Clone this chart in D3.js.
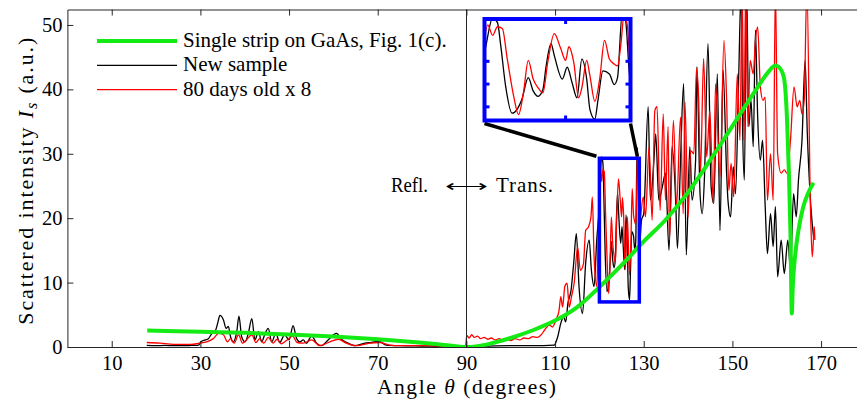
<!DOCTYPE html>
<html>
<head>
<meta charset="utf-8">
<script src="https://cdn.jsdelivr.net/npm/d3@7"></script>
<style>
body { margin: 0; background: #fff; }
svg { display: block; }
text { font-family: "Liberation Serif", serif; fill: #000; }
</style>
</head>
<body>
<div id="chart"></div>
<script>
var svgWidth = 857;
var svgHeight = 402;

// tick values
var xTicks = [10, 30, 50, 70, 90, 110, 130, 150, 170];
var yTicks = [0, 10, 20, 30, 40, 50];
var insetXTicks = [125];
var insetYTicks = [10, 15, 20];

var legendLabels = ["Single strip on GaAs, Fig. 1(c).", "New sample", "80 days old x 8"];

// zoomed window [angle range], [intensity range]
var zoomAngles = [120, 129];
var zoomValues = [7, 29.3];

// [angle, intensity]
var greenPoints = [
  [18, 2.55], [30, 2.35], [40, 2.2], [50, 1.95], [60, 1.62], [70, 1.2], [80, 0.65], [85, 0.32], [90, 0],
  [95, 0.45], [100, 1.4], [105, 2.6], [110, 4.1], [115, 6.2], [120, 9.3], [125, 12.7], [130, 16.4],
  [135, 19.8], [140, 24], [145, 29], [150, 34.3], [155, 39.6], [158, 42.6], [159.7, 43.7], [160.4, 43.5],
  [161.6, 41.9], [162.3, 35.7], [162.7, 28], [163.1, 17.7], [163.4, 5.2], [163.6, 9], [164.2, 14.5],
  [164.9, 18.1], [166, 21.8], [167.1, 23.9], [168.3, 25.5]
];

var blackPoints = [
  [17.9, 0.25], [20, 0.2], [22, 0.25], [24, 0.2], [26, 0.2], [28, 0.25], [29.6, 0.3], [30.1, 0.8], [31.1, 1.1],
  [31.8, 1.3], [32.6, 2.1], [33.3, 2.4], [33.9, 3.7], [34.4, 4.9], [35.2, 4.2], [35.8, 2.9], [36.3, 3.2],
  [36.8, 1.6], [37.4, 0.8], [38.2, 2.4], [38.7, 4.8], [39.3, 1.6], [40.1, 0.8], [40.8, 2.1], [41.6, 4.4],
  [42.3, 1.1], [43.1, 2.4], [43.8, 0.8], [44.6, 2.1], [45.3, 2.9], [46.1, 0.8], [47, 2.1], [47.9, 0.7],
  [49, 1.9], [50, 1.1], [50.9, 3.3], [51.7, 1.3], [52.4, 0.8], [53.2, 1.1], [53.9, 0.6], [55.1, 1.7],
  [56.2, 0.6], [57.3, 0.2], [58.8, 1.1], [60.7, 2.1], [61.8, 1.2], [63.3, 0.6], [64.8, 0.2], [67.1, 0.6],
  [68.6, 0.7], [70.3, 0.9], [71.9, 0.3], [75, 0.2], [80, 0.15], [85, 0.1], [90, 0.1], [95, 0.15], [100, 0.2],
  [105, 0.2], [109.8, 0.3], [110.6, 1.6], [111.3, 3.7], [111.9, 4.7], [112.4, 3.9], [112.9, 6.8], [113.6, 8.8],
  [114.2, 13], [114.8, 17.6], [115.4, 9.4], [116.2, 5.2], [116.9, 13], [117.7, 16.6], [118.2, 11.9],
  [118.8, 9.4], [119.4, 16.6], [120, 22], [120.5, 29.5], [120.8, 28.5], [121, 23.5], [121.3, 14.6],
  [121.7, 8.6], [122, 9.4], [122.3, 11.6], [122.7, 16.4], [123, 13.5], [123.3, 12.3], [123.6, 13.8],
  [123.8, 19], [124.1, 23.9], [124.3, 21.3], [124.8, 16.1], [125.1, 18.7], [125.4, 15.3], [125.7, 12],
  [126, 20.5], [126.3, 16.1], [126.5, 9.4], [126.8, 7.3], [127, 11.6], [127.3, 17.9], [127.7, 17.2],
  [128, 14.9], [128.2, 16.4], [128.5, 31], [128.7, 29], [129, 15.3], [129.5, 19.7], [130, 20.7], [131, 37.3],
  [131.5, 22.8], [132.3, 29], [132.7, 33.1], [133.4, 22.8], [134.2, 24.9], [134.9, 27], [135.7, 15],
  [136.4, 31.1], [137.2, 22.8], [137.6, 15.3], [138.3, 29], [139, 40.9], [139.6, 14.3], [140.4, 31.1],
  [140.9, 22.8], [141.7, 29], [142, 43.5], [142.7, 23.8], [143.2, 20.7], [143.7, 26.4], [144.5, 47.1],
  [145.2, 24.9], [145.8, 22.3], [146.6, 42.4], [147.2, 18.1], [147.9, 43], [148.7, 26.9], [149, 22.8],
  [149.6, 20.2], [150.2, 28], [150.7, 23.8], [151.4, 41.4], [152, 56], [152.3, 34.2], [152.7, 25.9],
  [153.2, 56], [153.7, 34.2], [154.2, 38.3], [154.7, 31.1], [155.2, 49.2], [155.7, 35.7], [156.3, 29],
  [156.8, 32.1], [157.4, 21.8], [157.9, 14.5], [158.6, 20.7], [159.2, 15.6], [159.7, 21.8], [160.2, 10.9],
  [161, 16.6], [161.7, 11.4], [162.5, 16.6], [163.1, 12], [163.8, 23.8], [164.4, 20.2], [164.9, 25.9],
  [165.7, 32.1], [166.4, 44.5], [166.9, 33.1], [167.7, 21.8], [168.3, 17.1]
];

var redPoints = [
  [17.9, 0.7], [20.9, 0.6], [23.9, 0.4], [27.7, 0.4], [29.9, 0.6], [31.4, 0.8], [32.9, 1.3], [34.1, 2.1],
  [35.2, 1.9], [36.1, 0.8], [36.8, 1.3], [37.6, 0.6], [38.6, 1.9], [39.5, 0.6], [40.4, 1.1], [41.6, 1.9],
  [42.5, 0.7], [43.4, 1.3], [44.3, 0.6], [45.3, 1.5], [46.4, 0.6], [47.3, 1.2], [48.3, 0.5], [49.4, 1.0],
  [50.8, 1.7], [51.8, 0.7], [53.2, 0.6], [55.1, 1.1], [56.9, 0.2], [59.2, 0.8], [61.1, 1.2], [62.9, 0.6],
  [65.2, 0.2], [68.2, 0.6], [70.4, 0.7], [72.7, 0.3], [75, 0.2], [80, 0.2], [85, 0.15], [89.8, 0.15],
  [90.1, 1.8], [90.6, 1.4], [91.2, 1.9], [91.8, 1.5], [92.5, 1.7], [93.2, 1.3], [94, 1.5], [94.8, 1.2],
  [95.6, 1.4], [96.5, 1.1], [97.4, 1.3], [98.3, 1.0], [99.2, 1.2], [100, 1.0], [101, 1.3], [102, 1.1],
  [103, 1.4], [104, 1.3], [105, 1.6], [106, 1.5], [107, 2.0], [107.6, 2.6], [108.7, 3.4], [109.4, 3.1],
  [110.2, 4.2], [110.9, 5.7], [111.3, 7.8], [111.7, 6.2], [112.2, 9.4], [112.7, 9.9], [113.2, 6.2],
  [113.7, 7.8], [114.3, 9.9], [115.1, 15.5], [115.7, 11.9], [116.4, 12.9], [116.9, 18.1], [117.5, 18.6],
  [118.1, 20.2], [118.4, 23.3], [118.8, 14], [119.4, 9.4], [119.8, 19], [120.2, 28], [120.5, 25.7],
  [120.8, 27.6], [121.1, 27.2], [121.4, 20.6], [121.8, 12.3], [122.1, 8.3], [122.4, 13.1], [122.7, 20.2],
  [123, 16.1], [123.3, 14.2], [123.6, 13.1], [123.9, 19.8], [124.3, 26.1], [124.7, 22.8], [125, 20.2],
  [125.2, 23.2], [125.5, 19.8], [125.8, 12], [126, 14.2], [126.3, 20.2], [126.5, 16.8], [126.8, 11.2],
  [127.1, 16.1], [127.4, 24.6], [127.7, 20.5], [128, 19.4], [128.2, 19], [128.4, 23.5], [128.6, 30],
  [128.8, 28], [129, 19], [129.9, 23.3], [130.4, 20.2], [131.2, 31.1], [131.9, 19.7], [132.5, 36.7],
  [133, 37.3], [133.7, 21.2], [134.4, 36.2], [134.9, 22.8], [135.5, 34.2], [135.8, 16.6], [136.7, 35.2],
  [137.4, 21.8], [138.3, 35.7], [138.9, 20.7], [139.3, 38], [140, 20.2], [140.6, 30.5], [141.3, 30],
  [141.9, 43.2], [142.4, 38.3], [142.8, 27], [143.5, 44.8], [144.2, 29.5], [144.9, 36.7], [145.7, 22.3],
  [146.2, 40.9], [147.2, 26.4], [148.1, 47.6], [148.7, 38.3], [149.2, 24.3], [149.7, 28.5], [150.3, 23.3],
  [151.1, 42.4], [151.7, 32.1], [152.2, 56], [152.6, 32.1], [153, 56], [153.5, 34.2], [154, 44.5],
  [154.7, 42.4], [155.2, 47.6], [155.7, 49.7], [156.3, 40.4], [156.9, 38.3], [157.4, 38.8], [157.9, 22.8],
  [158.6, 30], [159.2, 22.8], [159.7, 56], [160.2, 30], [161, 27], [161.7, 27.5], [162.3, 27], [163.1, 32.1],
  [163.9, 40.4], [164.6, 37.3], [165.2, 38.3], [165.7, 36.2], [166.2, 38.3], [166.8, 56], [167.6, 21.8],
  [168, 14], [168.5, 18.7], [168.6, 16.6]
];

var axisColor = "#262626";
var green = "#14ea14";

var svg = d3.select("#chart").append("svg")
  .attr("width", svgWidth)
  .attr("height", svgHeight);

var x = d3.scaleLinear().domain([0, 180]).range([67.4, 865.4]);
var y = d3.scaleLinear().domain([0, 52.4]).range([347, 9.5]);

svg.append("defs").append("clipPath").attr("id", "plotClip")
  .append("rect")
  .attr("x", x(0)).attr("y", y(52.4))
  .attr("width", x(180) - x(0)).attr("height", y(0) - y(52.4));

var line = d3.line()
  .x(d => x(d[0]))
  .y(d => y(d[1]))
  .curve(d3.curveMonotoneX);

var plot = svg.append("g").attr("clip-path", "url(#plotClip)");

plot.append("path").datum(blackPoints)
  .attr("d", line).attr("fill", "none").attr("stroke", "#000").attr("stroke-width", 1.3);
plot.append("path").datum(redPoints)
  .attr("d", line).attr("fill", "none").attr("stroke", "#ff0000").attr("stroke-width", 1.3);
plot.append("path").datum(greenPoints)
  .attr("d", line).attr("fill", "none").attr("stroke", green).attr("stroke-width", 4)
  .attr("stroke-linejoin", "round");

// vertical line at 90 degrees
svg.append("line")
  .attr("x1", Math.round(x(90)) + 0.5).attr("x2", Math.round(x(90)) + 0.5)
  .attr("y1", y(52.4)).attr("y2", y(0))
  .attr("stroke", axisColor).attr("stroke-width", 1);

// axes
function styleAxis(g) {
  g.selectAll("path, line").attr("stroke", axisColor);
  g.selectAll("text").attr("font-family", "Liberation Serif").attr("font-size", 20.5).attr("fill", "#000");
}

svg.append("g")
  .attr("transform", `translate(0, ${y(0)})`)
  .call(d3.axisBottom(x).tickValues(xTicks).tickSizeInner(-6).tickSizeOuter(0).tickPadding(8.5))
  .call(styleAxis);

svg.append("g")
  .attr("transform", `translate(0, ${y(52.4)})`)
  .call(d3.axisTop(x).tickValues(xTicks).tickSizeInner(-6).tickSizeOuter(0).tickFormat(""))
  .call(styleAxis);

svg.append("g")
  .attr("transform", `translate(${x(0)}, 0)`)
  .call(d3.axisLeft(y).tickValues(yTicks).tickSizeInner(-6).tickSizeOuter(0).tickPadding(5))
  .call(styleAxis);

// axis labels
var xLabel = svg.append("text")
  .attr("x", x(90)).attr("y", 394)
  .attr("text-anchor", "middle")
  .attr("font-size", 21.5)
  .attr("textLength", 179).attr("lengthAdjust", "spacing");
xLabel.append("tspan").text("Angle ");
xLabel.append("tspan").attr("font-style", "italic").text("θ");
xLabel.append("tspan").text(" (degrees)");

var yLabel = svg.append("text")
  .attr("transform", `translate(33, ${(y(0) + y(52.4)) / 2 + 3}) rotate(-90)`)
  .attr("text-anchor", "middle")
  .attr("font-size", 22)
  .attr("textLength", 287).attr("lengthAdjust", "spacing");
yLabel.append("tspan").text("Scattered intensity ");
yLabel.append("tspan").attr("font-style", "italic").text("I");
yLabel.append("tspan").attr("font-style", "italic").attr("font-size", 16).attr("dy", 4).text("s");
yLabel.append("tspan").attr("dy", -4).text(" (a.u.)");

// Refl. <-> Trans.
svg.append("text").attr("x", 391).attr("y", 192).attr("font-size", 21)
  .attr("textLength", 37).attr("lengthAdjust", "spacingAndGlyphs").text("Refl.");
svg.append("text").attr("x", 445).attr("y", 191).attr("font-size", 16)
  .attr("font-family", "DejaVu Sans").attr("fill", "#333")
  .attr("textLength", 43).attr("lengthAdjust", "spacingAndGlyphs")
  .text("⟷");
svg.append("text").attr("x", 496).attr("y", 192).attr("font-size", 21)
  .attr("textLength", 57).attr("lengthAdjust", "spacing").text("Trans.");

// legend
var legendColors = [green, "#000", "#ff0000"];
var legendWidths = [4, 1.3, 1.3];
var legend = svg.append("g");
legendLabels.forEach(function (label, i) {
  var ly = 41 + i * 24.3;
  legend.append("line")
    .attr("x1", 97).attr("x2", 177).attr("y1", ly).attr("y2", ly)
    .attr("stroke", legendColors[i]).attr("stroke-width", legendWidths[i]);
  legend.append("text")
    .attr("x", 183).attr("y", ly + 6)
    .attr("font-size", 21)
    .text(label);
});

// zoom rectangle on the main plot
svg.append("rect")
  .attr("x", x(zoomAngles[0])).attr("y", y(zoomValues[1]))
  .attr("width", x(zoomAngles[1]) - x(zoomAngles[0]))
  .attr("height", y(zoomValues[0]) - y(zoomValues[1]))
  .attr("fill", "none").attr("stroke", "#0000ff").attr("stroke-width", 3.5);

// inset
var ix = d3.scaleLinear().domain(zoomAngles).range([484.5, 630.5]);
var iy = d3.scaleLinear().domain(zoomValues).range([120.5, 19]);

// connector lines
svg.append("line")
  .attr("x1", ix.range()[0]).attr("y1", iy.range()[0] + 3)
  .attr("x2", x(zoomAngles[0]) - 3).attr("y2", y(zoomValues[1]) - 2)
  .attr("stroke", "#000").attr("stroke-width", 3.5);
svg.append("line")
  .attr("x1", ix.range()[1]).attr("y1", iy.range()[0] + 3)
  .attr("x2", x(zoomAngles[1]) - 2).attr("y2", y(zoomValues[1]) - 2)
  .attr("stroke", "#000").attr("stroke-width", 3.5);

svg.append("rect")
  .attr("x", ix.range()[0]).attr("y", iy.range()[1])
  .attr("width", ix.range()[1] - ix.range()[0])
  .attr("height", iy.range()[0] - iy.range()[1])
  .attr("fill", "#fff");

svg.select("defs").append("clipPath").attr("id", "insetClip")
  .append("rect")
  .attr("x", ix.range()[0]).attr("y", iy.range()[1])
  .attr("width", ix.range()[1] - ix.range()[0])
  .attr("height", iy.range()[0] - iy.range()[1]);

var insetLine = d3.line()
  .x(d => ix(d[0]))
  .y(d => iy(d[1]))
  .curve(d3.curveMonotoneX);

var inset = svg.append("g").attr("clip-path", "url(#insetClip)");
inset.append("path").datum(blackPoints)
  .attr("d", insetLine).attr("fill", "none").attr("stroke", "#000").attr("stroke-width", 1.3);
inset.append("path").datum(redPoints)
  .attr("d", insetLine).attr("fill", "none").attr("stroke", "#ff0000").attr("stroke-width", 1.3);

svg.append("rect")
  .attr("x", ix.range()[0]).attr("y", iy.range()[1])
  .attr("width", ix.range()[1] - ix.range()[0])
  .attr("height", iy.range()[0] - iy.range()[1])
  .attr("fill", "none").attr("stroke", "#0000ff").attr("stroke-width", 4);

// inset ticks
insetXTicks.forEach(function (t) {
  svg.append("line").attr("x1", ix(t)).attr("x2", ix(t))
    .attr("y1", iy.range()[1]).attr("y2", iy.range()[1] + 5)
    .attr("stroke", "#0000ff").attr("stroke-width", 3);
  svg.append("line").attr("x1", ix(t)).attr("x2", ix(t))
    .attr("y1", iy.range()[0]).attr("y2", iy.range()[0] - 5)
    .attr("stroke", "#0000ff").attr("stroke-width", 3);
});
insetYTicks.forEach(function (t) {
  svg.append("line").attr("y1", iy(t)).attr("y2", iy(t))
    .attr("x1", ix.range()[0]).attr("x2", ix.range()[0] + 5)
    .attr("stroke", "#0000ff").attr("stroke-width", 3);
  svg.append("line").attr("y1", iy(t)).attr("y2", iy(t))
    .attr("x1", ix.range()[1]).attr("x2", ix.range()[1] - 5)
    .attr("stroke", "#0000ff").attr("stroke-width", 3);
});
</script>
</body>
</html>
